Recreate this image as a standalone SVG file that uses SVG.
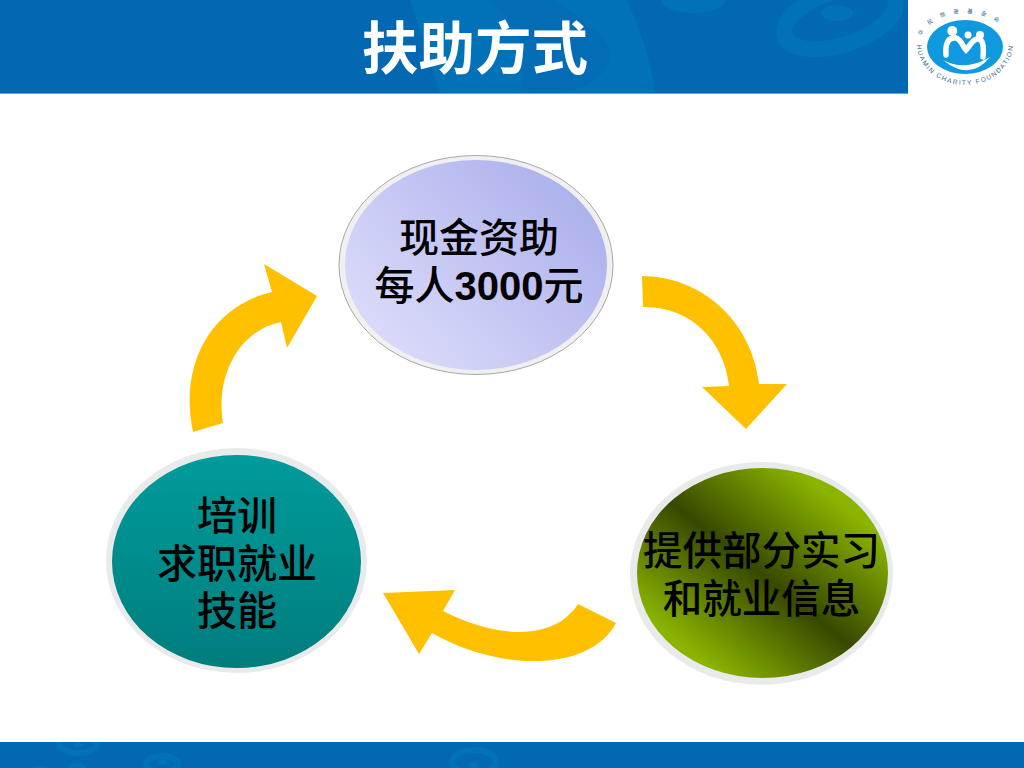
<svg xmlns="http://www.w3.org/2000/svg" width="1024" height="768" viewBox="0 0 1024 768">
<style>
.band{fill:#0268b1}
.sw{fill:#0272b8}
.swr{fill:none;stroke:#0272b8}
.arrow{fill:#ffc000}
.ring{fill:#e9eaec}
.t{font-family:"Liberation Sans","Noto Sans CJK SC",sans-serif;font-size:40px;fill:#000;text-anchor:middle;font-weight:500}
.d{font-weight:700}
.title{font-family:"Noto Sans CJK SC",sans-serif;font-size:56.500px;font-weight:700;fill:#fff;text-anchor:middle}
.lg{font-family:"Liberation Sans",sans-serif;font-size:6.5px;fill:#35688f;letter-spacing:1.5px}
.lc{font-family:"Noto Sans CJK SC",sans-serif;font-size:5.5px;fill:#35688f;letter-spacing:8px}
</style>
<defs>
<linearGradient id="gLav" gradientUnits="userSpaceOnUse" x1="570" y1="190" x2="400" y2="350"><stop offset="0" stop-color="#aeb2ec"/><stop offset="1" stop-color="#d8d9f9"/></linearGradient>
<linearGradient id="gTeal" x1="0" y1="0" x2="0" y2="1"><stop offset="0" stop-color="#009b9b"/><stop offset="1" stop-color="#007d7d"/></linearGradient>
<linearGradient id="gOl" gradientUnits="userSpaceOnUse" x1="690" y1="651" x2="820" y2="488"><stop offset="0" stop-color="#8ab400"/><stop offset=".5" stop-color="#374800"/><stop offset="1" stop-color="#8ab400"/></linearGradient>
<path id="arcEn" d="M917 44 A48 41 0 0 0 1013 44"/>
<path id="arcCn" d="M920 44 A45 31 0 0 1 1010 44"/>
<clipPath id="footClip"><rect y="742" width="1024" height="26"/></clipPath>
</defs>
<rect width="1024" height="768" fill="#fff"/>
<g id="header">
<rect class="band" width="1024" height="94"/>
<path class="sw" d="M410 0L627 0Q648 45 655 93L440 93Z"/>
<path d="M490 0L553 0Q610 35 610 55Q606 85 560 93L520 93Q535 40 490 0Z" fill="#026db4"/>
<ellipse class="sw" cx="693" cy="0" rx="32" ry="13"/>
<ellipse class="swr" cx="840" cy="18" rx="58" ry="27" transform="rotate(-18 840 18)" stroke-width="16"/>
<ellipse class="sw" cx="837" cy="13" rx="16" ry="8"/>
<rect y="93" width="1024" height="1" fill="#5aaed0"/>
<text class="title" x="475" y="69">扶助方式</text>
</g>
<g id="logo">
<rect x="908" width="116" height="94" fill="#fff"/>
<ellipse cx="965" cy="47" rx="38" ry="27" fill="#0f9ae0"/>
<circle cx="952.300" cy="31" r="5" fill="#fff"/><circle cx="968" cy="35" r="3.500" fill="#fff"/><circle cx="980" cy="35" r="4" fill="#fff"/>
<path d="M946 55C945 42 949 37 956 38C961 39 963 47 966 50C969 47 972 40 977 39C983 38 984 46 983 57" fill="none" stroke="#fff" stroke-width="5.500" stroke-linecap="round"/>
<path d="M943 60Q965 72 990 57Q970 82 943 60Z" fill="#fff"/>
<text class="lg"><textPath href="#arcEn" startOffset="1">HUAMIN CHARITY FOUNDATION</textPath></text>
<text class="lc"><textPath href="#arcCn" startOffset="8">华民慈善基金会</textPath></text>
</g>
<g id="footer">
<rect class="band" y="742" width="1024" height="26"/>
<g clip-path="url(#footClip)">
<ellipse class="swr" cx="78" cy="744" rx="19" ry="9" stroke-width="6"/>
<ellipse class="sw" cx="78" cy="745" rx="5" ry="3"/>
<ellipse class="swr" cx="162" cy="764" rx="16" ry="8" stroke-width="6"/>
<ellipse class="sw" cx="162" cy="762" rx="5" ry="3"/>
<ellipse class="sw" cx="77" cy="768" rx="9" ry="5"/>
<ellipse class="sw" cx="40" cy="769" rx="9" ry="3"/>
<ellipse class="swr" cx="474" cy="762" rx="22" ry="12" stroke-width="6"/>
<ellipse class="sw" cx="473" cy="765" rx="5" ry="3"/>
</g>
</g>
<g id="connectors">
<path class="arrow" d="M642 276C700 276 752 320 759 384L787 384L746 429L702 387L729 386C724 340 690 306 643 307Z"/>
<path class="arrow" d="M616 623C590 672 500 672 432 633L419 654L383 593L455 590L443 611C500 640 555 640 578 604Z"/>
<path class="arrow" d="M193 432C178 360 215 305 272 292L264 264L317 296L287 348L281 322C240 330 215 375 223 423Z"/>
</g>
<g id="node-cash">
<ellipse cx="476" cy="265" rx="137" ry="109.500" fill="#f0f0f0" stroke="#a8a8a8" stroke-width="1"/>
<ellipse cx="476" cy="265" rx="131" ry="105" fill="url(#gLav)"/>
<text class="t" x="479" y="252">现金资助</text>
<text class="t" x="479" y="300">每人<tspan class="d">3000</tspan>元</text>
</g>
<g id="node-info">
<ellipse class="ring" cx="761.500" cy="573.500" rx="131.500" ry="111.500"/>
<ellipse cx="762.500" cy="573" rx="125.500" ry="105" fill="url(#gOl)"/>
<text class="t" x="761.500" y="565" style="font-size:39.500px">提供部分实习</text>
<text class="t" x="761.500" y="613" style="font-size:39.500px">和就业信息</text>
</g>
<g id="node-skills">
<ellipse class="ring" cx="236.500" cy="560.500" rx="130.500" ry="112.500"/>
<ellipse cx="236.500" cy="561.500" rx="124.500" ry="106.500" fill="url(#gTeal)"/>
<text class="t" x="237" y="530">培训</text>
<text class="t" x="237" y="578">求职就业</text>
<text class="t" x="237" y="625">技能</text>
</g>
</svg>
